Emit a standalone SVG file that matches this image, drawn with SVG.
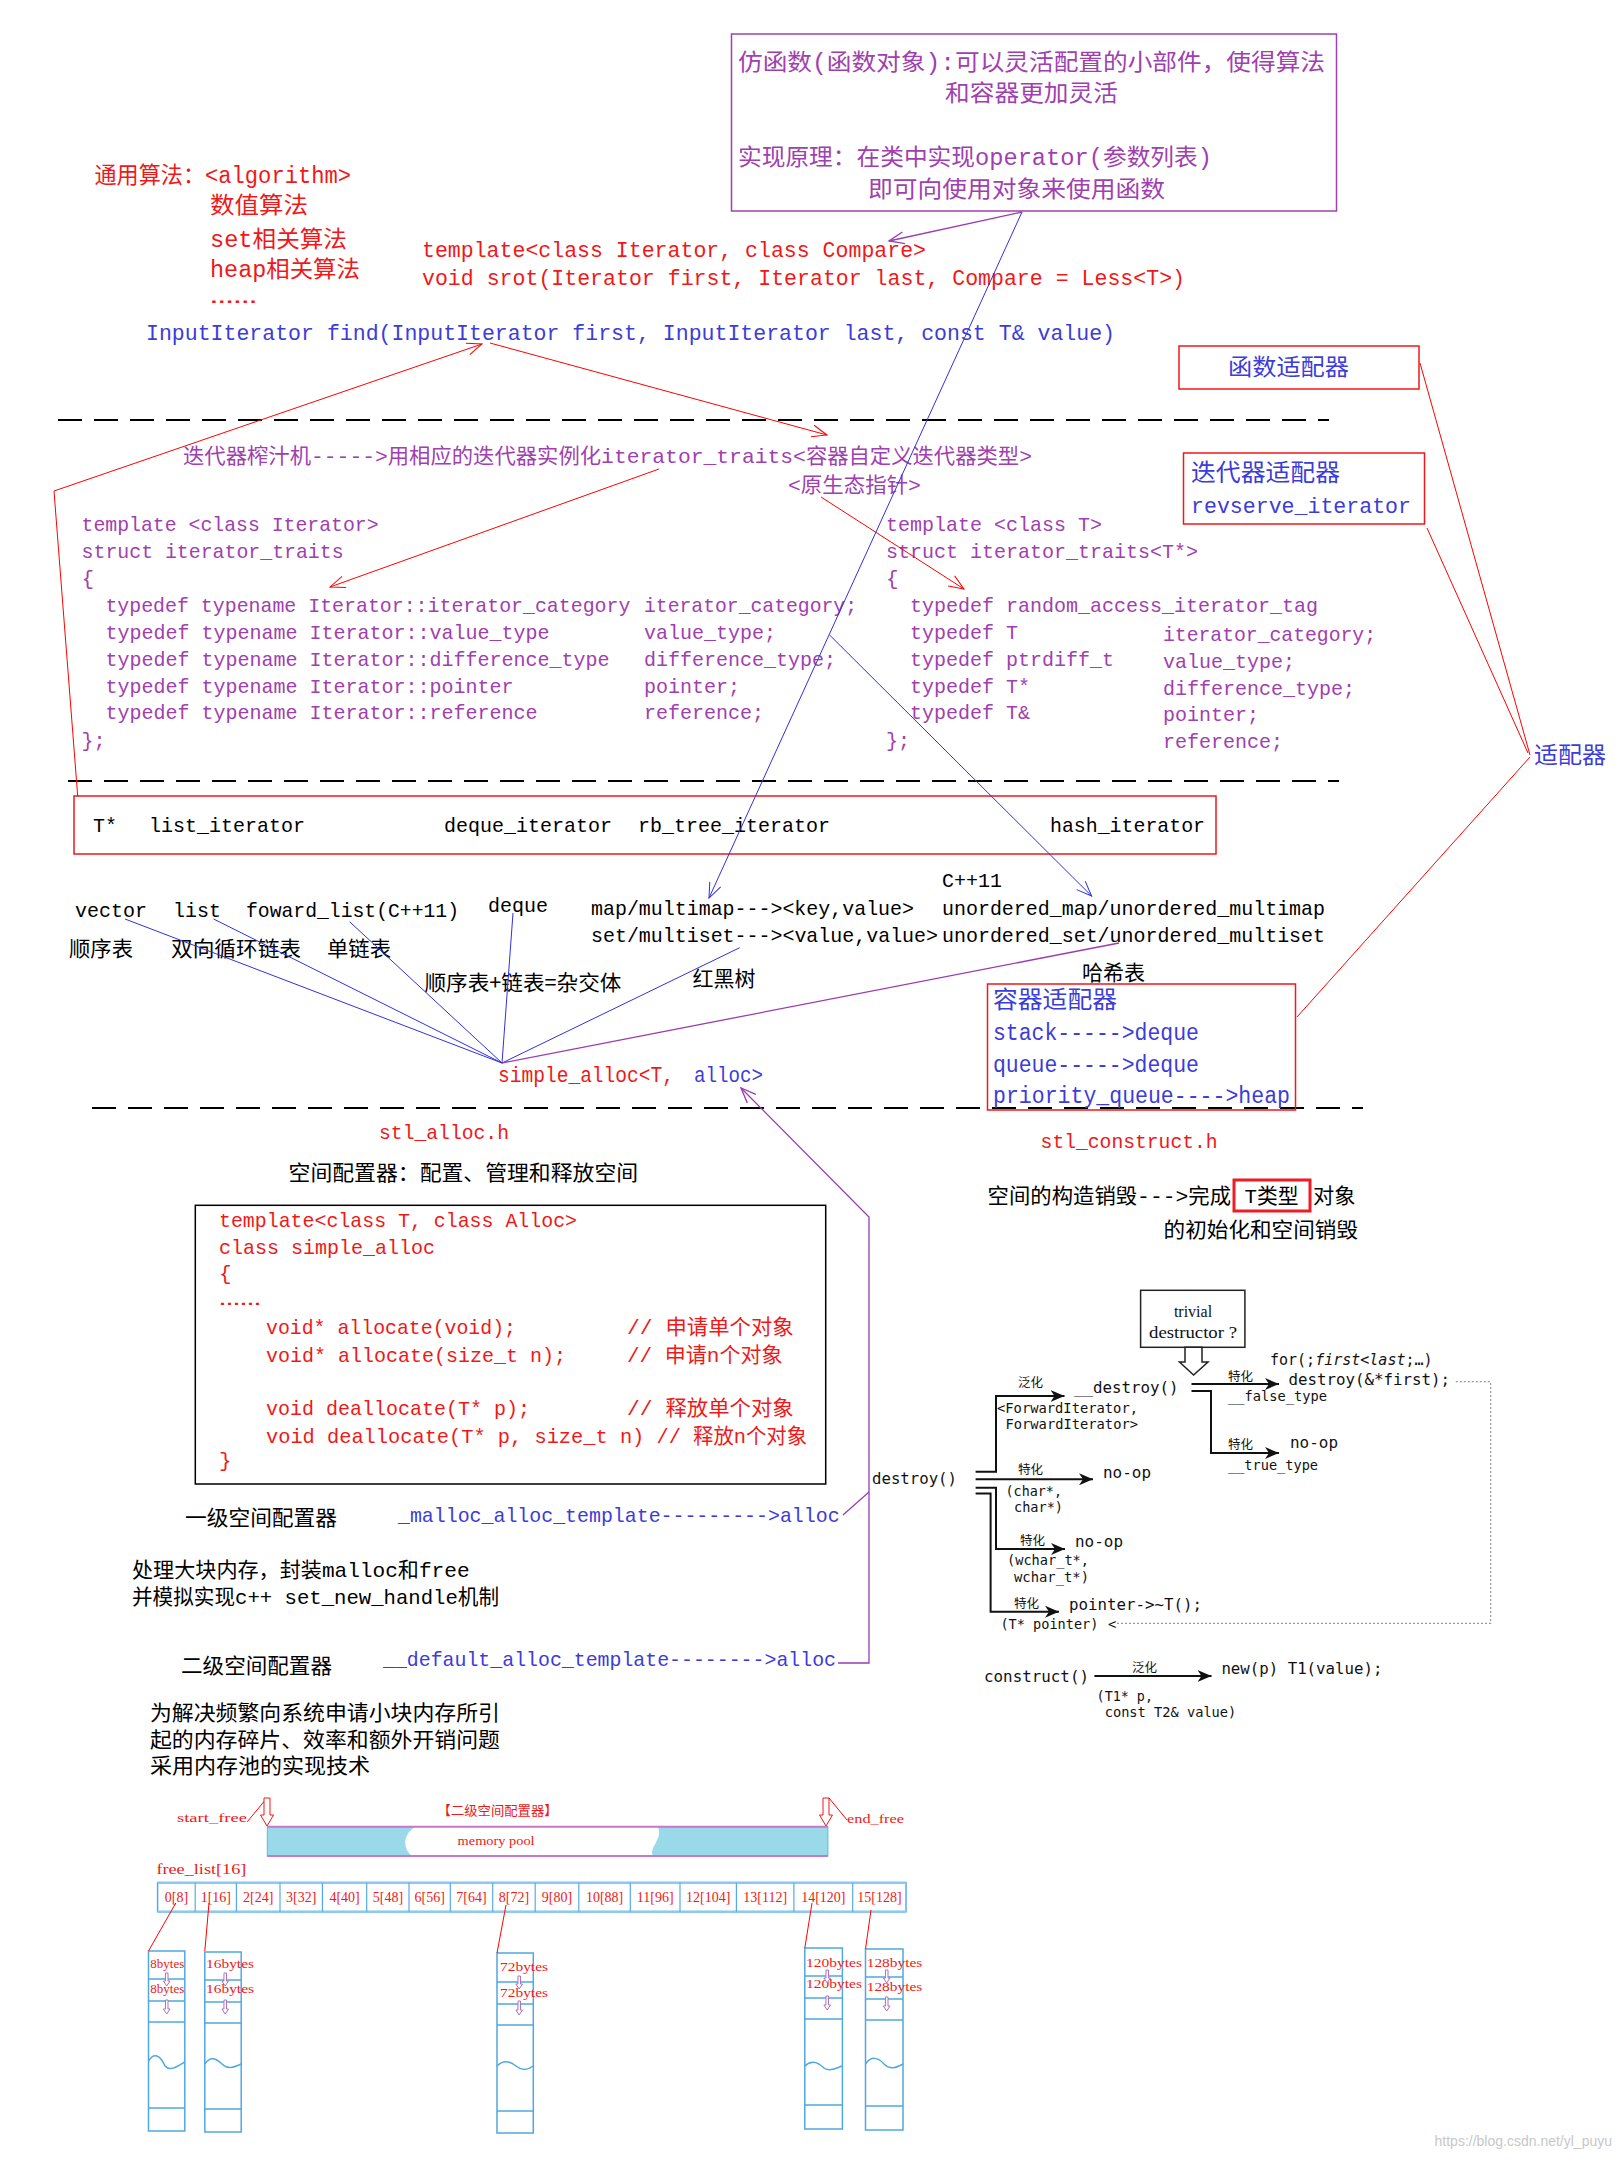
<svg xmlns="http://www.w3.org/2000/svg" width="1620" height="2160" viewBox="0 0 1620 2160">
<style>
.m{font-family:"Liberation Mono","Noto Sans CJK SC",monospace;}
.c{font-family:"Noto Sans CJK SC",sans-serif;}
.s{font-family:"DejaVu Sans Mono","Noto Sans CJK SC",monospace;fill:#111;}
.t{font-family:"Liberation Serif","Noto Sans CJK SC",serif;}
.r{fill:#f01818}.b{fill:#3c3cd8}.p{fill:#a040b0}.k{fill:#000}
.lr{stroke:#ff0000;stroke-width:1;fill:none}
.lb{stroke:#3030e0;stroke-width:1;fill:none}
.lp{stroke:#9a3cb0;stroke-width:1.3;fill:none}
.dash{stroke:#000;stroke-width:2;stroke-dasharray:24 12;fill:none}
.dl{stroke:#111;stroke-width:2;fill:none}
.cyan{stroke:#4fa8e0;stroke-width:1.5;fill:none}
</style>
<defs>
<marker id="aR" markerUnits="userSpaceOnUse" markerWidth="18" markerHeight="14" refX="16" refY="7" orient="auto"><path d="M1,1 L16,7 L1,13" fill="none" stroke="#ff0000" stroke-width="1"/></marker>
<marker id="aB" markerUnits="userSpaceOnUse" markerWidth="18" markerHeight="14" refX="16" refY="7" orient="auto"><path d="M1,1 L16,7 L1,13" fill="none" stroke="#3030e0" stroke-width="1"/></marker>
<marker id="aP" markerUnits="userSpaceOnUse" markerWidth="18" markerHeight="14" refX="16" refY="7" orient="auto"><path d="M1,1 L16,7 L1,13" fill="none" stroke="#9a3cb0" stroke-width="1.3"/></marker>
<marker id="aK" markerUnits="userSpaceOnUse" markerWidth="16" markerHeight="12" refX="14" refY="6" orient="auto"><path d="M0,0 L14,6 L0,12 L4,6 z" fill="#111"/></marker>
</defs>
<rect width="1620" height="2160" fill="#fff"/>

<!-- dashed separators -->
<g id="separators">
<line class="dash" x1="58" y1="420" x2="1329" y2="420"/>
<line class="dash" x1="68" y1="781" x2="1339" y2="781"/>
<line class="dash" x1="92" y1="1108" x2="1363" y2="1108"/>
</g>

<g id="functor">
<rect x="731.5" y="34" width="605" height="177" fill="none" stroke="#a040b0" stroke-width="1.5"/>
<text class="m p" font-size="23" x="738" y="70" textLength="587" lengthAdjust="spacingAndGlyphs">仿函数(函数对象):可以灵活配置的小部件，使得算法</text>
<text class="m p" font-size="23" x="945" y="101" textLength="173" lengthAdjust="spacingAndGlyphs">和容器更加灵活</text>
<text class="m p" font-size="23" x="738" y="165" textLength="474" lengthAdjust="spacingAndGlyphs">实现原理：在类中实现operator(参数列表)</text>
<text class="m p" font-size="23" x="868" y="197" textLength="297" lengthAdjust="spacingAndGlyphs">即可向使用对象来使用函数</text>
</g>

<g id="algorithms">
<text class="m r" font-size="23" x="94.5" y="183" textLength="256.5" lengthAdjust="spacingAndGlyphs">通用算法：&lt;algorithm&gt;</text>
<text class="m r" font-size="23" x="210" y="213" textLength="98" lengthAdjust="spacingAndGlyphs">数值算法</text>
<text class="m r" font-size="23" x="210" y="247" textLength="137" lengthAdjust="spacingAndGlyphs">set相关算法</text>
<text class="m r" font-size="23" x="210" y="277" textLength="150" lengthAdjust="spacingAndGlyphs">heap相关算法</text>
<text class="m r" font-size="23" x="210" y="303" textLength="47" lengthAdjust="spacingAndGlyphs">……</text>
</g>

<g id="sort-decl">
<text class="m r" font-size="22" x="422" y="257" textLength="504" lengthAdjust="spacingAndGlyphs">template&lt;class Iterator, class Compare&gt;</text>
<text class="m r" font-size="22" x="422" y="285" textLength="763" lengthAdjust="spacingAndGlyphs">void srot(Iterator first, Iterator last, Compare = Less&lt;T&gt;)</text>
</g>

<g id="find-decl">
<text class="m b" font-size="22" x="146" y="340" textLength="969" lengthAdjust="spacingAndGlyphs">InputIterator find(InputIterator first, InputIterator last, const T&amp; value)</text>
</g>

<g id="func-adapter">
<rect x="1179" y="346" width="240" height="43" fill="none" stroke="#f01818" stroke-width="1.5"/>
<text class="c b" font-size="23" x="1228" y="375" textLength="121" lengthAdjust="spacingAndGlyphs">函数适配器</text>
</g>

<g id="traits-title">
<text class="m p" font-size="21" x="183" y="463" textLength="849" lengthAdjust="spacingAndGlyphs">迭代器榨汁机-----&gt;用相应的迭代器实例化iterator_traits&lt;容器自定义迭代器类型&gt;</text>
<text class="m p" font-size="21" x="788" y="492" textLength="133" lengthAdjust="spacingAndGlyphs">&lt;原生态指针&gt;</text>
</g>

<g id="traits-generic">
<text class="m p" font-size="21" x="81.6" y="531" textLength="297" lengthAdjust="spacingAndGlyphs">template &lt;class Iterator&gt;</text>
<text class="m p" font-size="21" x="81.6" y="558" textLength="262" lengthAdjust="spacingAndGlyphs">struct iterator_traits</text>
<text class="m p" font-size="21" x="81.6" y="585">{</text>
<text class="m p" font-size="21" x="105.4" y="612" textLength="525" lengthAdjust="spacingAndGlyphs">typedef typename Iterator::iterator_category</text>
<text class="m p" font-size="21" x="105.4" y="639" textLength="444" lengthAdjust="spacingAndGlyphs">typedef typename Iterator::value_type</text>
<text class="m p" font-size="21" x="105.4" y="666" textLength="504" lengthAdjust="spacingAndGlyphs">typedef typename Iterator::difference_type</text>
<text class="m p" font-size="21" x="105.4" y="693" textLength="408" lengthAdjust="spacingAndGlyphs">typedef typename Iterator::pointer</text>
<text class="m p" font-size="21" x="105.4" y="719" textLength="432" lengthAdjust="spacingAndGlyphs">typedef typename Iterator::reference</text>
<text class="m p" font-size="21" x="644" y="612" textLength="213" lengthAdjust="spacingAndGlyphs">iterator_category;</text>
<text class="m p" font-size="21" x="644" y="639" textLength="132" lengthAdjust="spacingAndGlyphs">value_type;</text>
<text class="m p" font-size="21" x="644" y="666" textLength="192" lengthAdjust="spacingAndGlyphs">difference_type;</text>
<text class="m p" font-size="21" x="644" y="693" textLength="96" lengthAdjust="spacingAndGlyphs">pointer;</text>
<text class="m p" font-size="21" x="644" y="719" textLength="120" lengthAdjust="spacingAndGlyphs">reference;</text>
<text class="m p" font-size="21" x="81.6" y="747" textLength="24" lengthAdjust="spacingAndGlyphs">};</text>
</g>

<g id="traits-pointer">
<text class="m p" font-size="21" x="886" y="531" textLength="216" lengthAdjust="spacingAndGlyphs">template &lt;class T&gt;</text>
<text class="m p" font-size="21" x="886" y="558" textLength="312" lengthAdjust="spacingAndGlyphs">struct iterator_traits&lt;T*&gt;</text>
<text class="m p" font-size="21" x="886" y="585">{</text>
<text class="m p" font-size="21" x="910" y="612" textLength="408" lengthAdjust="spacingAndGlyphs">typedef random_access_iterator_tag</text>
<text class="m p" font-size="21" x="910" y="639" textLength="108" lengthAdjust="spacingAndGlyphs">typedef T</text>
<text class="m p" font-size="21" x="910" y="666" textLength="204" lengthAdjust="spacingAndGlyphs">typedef ptrdiff_t</text>
<text class="m p" font-size="21" x="910" y="693" textLength="120" lengthAdjust="spacingAndGlyphs">typedef T*</text>
<text class="m p" font-size="21" x="910" y="719" textLength="120" lengthAdjust="spacingAndGlyphs">typedef T&amp;</text>
<text class="m p" font-size="21" x="886" y="747" textLength="24" lengthAdjust="spacingAndGlyphs">};</text>
<text class="m p" font-size="21" x="1163" y="641" textLength="213" lengthAdjust="spacingAndGlyphs">iterator_category;</text>
<text class="m p" font-size="21" x="1163" y="668" textLength="132" lengthAdjust="spacingAndGlyphs">value_type;</text>
<text class="m p" font-size="21" x="1163" y="695" textLength="192" lengthAdjust="spacingAndGlyphs">difference_type;</text>
<text class="m p" font-size="21" x="1163" y="721" textLength="96" lengthAdjust="spacingAndGlyphs">pointer;</text>
<text class="m p" font-size="21" x="1163" y="748" textLength="120" lengthAdjust="spacingAndGlyphs">reference;</text>
</g>

<g id="iter-adapter">
<rect x="1183.5" y="453" width="241" height="71" fill="none" stroke="#f01818" stroke-width="1.5"/>
<text class="c b" font-size="24" x="1191" y="481" textLength="149" lengthAdjust="spacingAndGlyphs">迭代器适配器</text>
<text class="m b" font-size="22" x="1191" y="513" textLength="220" lengthAdjust="spacingAndGlyphs">revserve_iterator</text>
</g>

<g id="adapter">
<text class="c b" font-size="23" x="1534" y="763" textLength="72" lengthAdjust="spacingAndGlyphs">适配器</text>
</g>

<g id="iterators">
<rect x="74" y="796" width="1142" height="58" fill="none" stroke="#f01818" stroke-width="1.5"/>
<text class="m k" font-size="21" x="93" y="832" textLength="24" lengthAdjust="spacingAndGlyphs">T*</text>
<text class="m k" font-size="21" x="149" y="832" textLength="156" lengthAdjust="spacingAndGlyphs">list_iterator</text>
<text class="m k" font-size="21" x="444" y="832" textLength="168" lengthAdjust="spacingAndGlyphs">deque_iterator</text>
<text class="m k" font-size="21" x="638" y="832" textLength="192" lengthAdjust="spacingAndGlyphs">rb_tree_iterator</text>
<text class="m k" font-size="21" x="1050" y="832" textLength="155" lengthAdjust="spacingAndGlyphs">hash_iterator</text>
</g>

<g id="containers">
<text class="m k" font-size="21" x="75" y="917" textLength="72" lengthAdjust="spacingAndGlyphs">vector</text>
<text class="m k" font-size="21" x="173" y="917" textLength="48" lengthAdjust="spacingAndGlyphs">list</text>
<text class="m k" font-size="21" x="246" y="917" textLength="213" lengthAdjust="spacingAndGlyphs">foward_list(C++11)</text>
<text class="m k" font-size="21" x="488" y="912" textLength="60" lengthAdjust="spacingAndGlyphs">deque</text>
<text class="m k" font-size="21" x="591" y="915" textLength="323" lengthAdjust="spacingAndGlyphs">map/multimap---&gt;&lt;key,value&gt;</text>
<text class="m k" font-size="21" x="591" y="942" textLength="347" lengthAdjust="spacingAndGlyphs">set/multiset---&gt;&lt;value,value&gt;</text>
<text class="m k" font-size="21" x="942" y="887" textLength="60" lengthAdjust="spacingAndGlyphs">C++11</text>
<text class="m k" font-size="21" x="942" y="915" textLength="383" lengthAdjust="spacingAndGlyphs">unordered_map/unordered_multimap</text>
<text class="m k" font-size="21" x="942" y="942" textLength="383" lengthAdjust="spacingAndGlyphs">unordered_set/unordered_multiset</text>
<text class="c k" font-size="21" x="69" y="956" textLength="64" lengthAdjust="spacingAndGlyphs">顺序表</text>
<text class="c k" font-size="21" x="171" y="956" textLength="130" lengthAdjust="spacingAndGlyphs">双向循环链表</text>
<text class="c k" font-size="21" x="327" y="956" textLength="64" lengthAdjust="spacingAndGlyphs">单链表</text>
<text class="c k" font-size="21" x="424.5" y="990" textLength="197" lengthAdjust="spacingAndGlyphs">顺序表+链表=杂交体</text>
<text class="c k" font-size="21" x="692.5" y="986" textLength="63" lengthAdjust="spacingAndGlyphs">红黑树</text>
<text class="c k" font-size="21" x="1082" y="980" textLength="63" lengthAdjust="spacingAndGlyphs">哈希表</text>
</g>

<g id="simple-alloc-ref">
<text class="m r" font-size="22" x="498" y="1082" textLength="176" lengthAdjust="spacingAndGlyphs">simple_alloc&lt;T,</text>
<text class="m b" font-size="22" x="694" y="1082" textLength="69" lengthAdjust="spacingAndGlyphs">alloc&gt;</text>
</g>

<g id="container-adapter">
<rect x="987.5" y="984" width="308" height="126" fill="none" stroke="#f01818" stroke-width="1.5"/>
<text class="c b" font-size="24" x="993" y="1008" textLength="124" lengthAdjust="spacingAndGlyphs">容器适配器</text>
<text class="m b" font-size="23" x="993" y="1040" textLength="206" lengthAdjust="spacingAndGlyphs">stack-----&gt;deque</text>
<text class="m b" font-size="23" x="993" y="1072" textLength="206" lengthAdjust="spacingAndGlyphs">queue-----&gt;deque</text>
<text class="m b" font-size="23" x="993" y="1103" textLength="297" lengthAdjust="spacingAndGlyphs">priority_queue----&gt;heap</text>
</g>

<g id="stl-alloc">
<text class="m r" font-size="21" x="379" y="1139" textLength="130" lengthAdjust="spacingAndGlyphs">stl_alloc.h</text>
<text class="c k" font-size="21" x="288.6" y="1180" textLength="349.5" lengthAdjust="spacingAndGlyphs">空间配置器：配置、管理和释放空间</text>
</g>

<g id="simple-alloc-class">
<rect x="195.3" y="1205.3" width="630.4" height="278.7" fill="none" stroke="#000" stroke-width="1.5"/>
<text class="m r" font-size="21" x="219" y="1227" textLength="358" lengthAdjust="spacingAndGlyphs">template&lt;class T, class Alloc&gt;</text>
<text class="m r" font-size="21" x="219" y="1254" textLength="216" lengthAdjust="spacingAndGlyphs">class simple_alloc</text>
<text class="m r" font-size="21" x="219" y="1280">{</text>
<text class="m r" font-size="21" x="219" y="1305" textLength="42" lengthAdjust="spacingAndGlyphs">……</text>
<text class="m r" font-size="21" x="266" y="1334" textLength="250" lengthAdjust="spacingAndGlyphs">void* allocate(void);</text>
<text class="m r" font-size="21" x="627" y="1334" textLength="166.6" lengthAdjust="spacingAndGlyphs">// 申请单个对象</text>
<text class="m r" font-size="21" x="266" y="1362" textLength="300" lengthAdjust="spacingAndGlyphs">void* allocate(size_t n);</text>
<text class="m r" font-size="21" x="627" y="1362" textLength="155.5" lengthAdjust="spacingAndGlyphs">// 申请n个对象</text>
<text class="m r" font-size="21" x="266" y="1415" textLength="264" lengthAdjust="spacingAndGlyphs">void deallocate(T* p);</text>
<text class="m r" font-size="21" x="627" y="1415" textLength="166.6" lengthAdjust="spacingAndGlyphs">// 释放单个对象</text>
<text class="m r" font-size="21" x="266" y="1443" textLength="541" lengthAdjust="spacingAndGlyphs">void deallocate(T* p, size_t n) // 释放n个对象</text>
<text class="m r" font-size="21" x="219" y="1467">}</text>
</g>

<g id="level1">
<text class="c k" font-size="21" x="185" y="1525" textLength="152" lengthAdjust="spacingAndGlyphs">一级空间配置器</text>
<text class="m b" font-size="21" x="398" y="1522" textLength="441.6" lengthAdjust="spacingAndGlyphs">_malloc_alloc_template---------&gt;alloc</text>
<text class="m k" font-size="21" x="132" y="1577" textLength="337.6" lengthAdjust="spacingAndGlyphs">处理大块内存，封装malloc和free</text>
<text class="m k" font-size="21" x="132" y="1604" textLength="367" lengthAdjust="spacingAndGlyphs">并模拟实现c++ set_new_handle机制</text>
</g>

<g id="level2">
<text class="c k" font-size="21" x="181" y="1673" textLength="151" lengthAdjust="spacingAndGlyphs">二级空间配置器</text>
<text class="m b" font-size="21" x="383" y="1666" textLength="453" lengthAdjust="spacingAndGlyphs">__default_alloc_template--------&gt;alloc</text>
<text class="c k" font-size="21" x="150" y="1720" textLength="350" lengthAdjust="spacingAndGlyphs">为解决频繁向系统申请小块内存所引</text>
<text class="c k" font-size="21" x="150" y="1747" textLength="350" lengthAdjust="spacingAndGlyphs">起的内存碎片、效率和额外开销问题</text>
<text class="c k" font-size="21" x="150" y="1773" textLength="220" lengthAdjust="spacingAndGlyphs">采用内存池的实现技术</text>
</g>

<g id="stl-construct">
<text class="m r" font-size="21" x="1040.6" y="1148" textLength="177" lengthAdjust="spacingAndGlyphs">stl_construct.h</text>
<text class="m k" font-size="21" x="987.6" y="1203" textLength="243.5" lengthAdjust="spacingAndGlyphs">空间的构造销毁---&gt;完成</text>
<rect x="1234" y="1180" width="76" height="31" fill="none" stroke="#ee1c24" stroke-width="3"/>
<text class="m k" font-size="21" x="1244.6" y="1203" textLength="54" lengthAdjust="spacingAndGlyphs">T类型</text>
<text class="c k" font-size="21" x="1313" y="1203" textLength="42.5" lengthAdjust="spacingAndGlyphs">对象</text>
<text class="c k" font-size="21" x="1163.6" y="1237" textLength="194.4" lengthAdjust="spacingAndGlyphs">的初始化和空间销毁</text>
</g>

<g id="destroy-diagram">
<rect x="1140.6" y="1290.3" width="104.3" height="57" fill="none" stroke="#222" stroke-width="1.5"/>
<text class="t" font-size="16" fill="#111" x="1193" y="1317" text-anchor="middle">trivial</text>
<text class="t" font-size="16" fill="#111" x="1149" y="1338" textLength="88" lengthAdjust="spacingAndGlyphs">destructor ?</text>
<polygon points="1185,1347.3 1202,1347.3 1202,1362 1208,1362 1193.6,1375 1179.5,1362 1185,1362" fill="#fff" stroke="#222" stroke-width="1.5"/>
<text class="s" font-size="15" x="1270" y="1365">for(;<tspan font-style="italic">first&lt;last</tspan>;…)</text>
<text class="s" font-size="15.8" x="1288.5" y="1385" textLength="161.5" lengthAdjust="spacingAndGlyphs">destroy(&amp;*first);</text>
<text class="c" font-size="12.5" fill="#111" x="1228" y="1381">特化</text>
<text class="s" font-size="13.7" x="1228" y="1401" textLength="99" lengthAdjust="spacingAndGlyphs">__false_type</text>
<text class="c" font-size="12.5" fill="#111" x="1228" y="1449">特化</text>
<text class="s" font-size="15.8" x="1290" y="1448" textLength="48" lengthAdjust="spacingAndGlyphs">no-op</text>
<text class="s" font-size="13.7" x="1228" y="1470" textLength="90" lengthAdjust="spacingAndGlyphs">__true_type</text>
<text class="s" font-size="15.8" x="1074" y="1393" textLength="104.6" lengthAdjust="spacingAndGlyphs">__destroy()</text>
<text class="c" font-size="12.5" fill="#111" x="1018" y="1387">泛化</text>
<text class="s" font-size="13.8" x="997" y="1413" textLength="141" lengthAdjust="spacingAndGlyphs">&lt;ForwardIterator,</text>
<text class="s" font-size="13.8" x="1005.5" y="1429" textLength="132.5" lengthAdjust="spacingAndGlyphs">ForwardIterator&gt;</text>
<text class="s" font-size="15.8" x="872" y="1484" textLength="85" lengthAdjust="spacingAndGlyphs">destroy()</text>
<text class="c" font-size="12.5" fill="#111" x="1018" y="1474">特化</text>
<text class="s" font-size="15.8" x="1103" y="1478" textLength="48" lengthAdjust="spacingAndGlyphs">no-op</text>
<text class="s" font-size="13.8" x="1005.5" y="1496" textLength="56.5" lengthAdjust="spacingAndGlyphs">(char*,</text>
<text class="s" font-size="13.8" x="1014" y="1512" textLength="49" lengthAdjust="spacingAndGlyphs">char*)</text>
<text class="c" font-size="12.5" fill="#111" x="1020" y="1545">特化</text>
<text class="s" font-size="15.8" x="1075" y="1547" textLength="48" lengthAdjust="spacingAndGlyphs">no-op</text>
<text class="s" font-size="13.8" x="1007" y="1565" textLength="82" lengthAdjust="spacingAndGlyphs">(wchar_t*,</text>
<text class="s" font-size="13.8" x="1014" y="1582" textLength="75" lengthAdjust="spacingAndGlyphs">wchar_t*)</text>
<text class="c" font-size="12.5" fill="#111" x="1014" y="1608">特化</text>
<text class="s" font-size="15.8" x="1069" y="1610" textLength="133" lengthAdjust="spacingAndGlyphs">pointer-&gt;~T();</text>
<text class="s" font-size="13.8" x="1000.4" y="1629" textLength="98" lengthAdjust="spacingAndGlyphs">(T* pointer)</text>
<text class="s" font-size="13.8" x="1108" y="1629">&lt;</text>
<text class="s" font-size="15.8" x="984" y="1682" textLength="105" lengthAdjust="spacingAndGlyphs">construct()</text>
<text class="c" font-size="12.5" fill="#111" x="1132" y="1672">泛化</text>
<text class="s" font-size="15.8" x="1221.4" y="1674" textLength="161" lengthAdjust="spacingAndGlyphs">new(p) T1(value);</text>
<text class="s" font-size="13.8" x="1096.6" y="1701" textLength="56.4" lengthAdjust="spacingAndGlyphs">(T1* p,</text>
<text class="s" font-size="13.8" x="1104.7" y="1717" textLength="131.6" lengthAdjust="spacingAndGlyphs">const T2&amp; value)</text>
<!-- diagram lines -->
<line class="dl" x1="1191.5" y1="1384" x2="1279" y2="1384" marker-end="url(#aK)"/>
<polyline class="dl" points="1191.5,1391 1211,1391 1211,1453 1279,1453" marker-end="url(#aK)"/>
<polyline class="dl" points="975.6,1471.7 996,1471.7 996,1396 1064.5,1396" marker-end="url(#aK)"/>
<line class="dl" x1="975.6" y1="1479.3" x2="1093" y2="1479.3" marker-end="url(#aK)"/>
<polyline class="dl" points="975.6,1487.7 996,1487.7 996,1549 1065,1549" marker-end="url(#aK)"/>
<polyline class="dl" points="975.6,1493.5 990.6,1493.5 990.6,1611.7 1059,1611.7" marker-end="url(#aK)"/>
<polyline points="1117,1623.3 1490.6,1623.3 1490.6,1381.7 1454,1381.7" fill="none" stroke="#999" stroke-width="1.2" stroke-dasharray="2 2"/>
<line class="dl" x1="1094.4" y1="1676" x2="1211.5" y2="1676" marker-end="url(#aK)"/>
</g>

<g id="memory-pool">
<text class="t r" font-size="13" x="177" y="1822" textLength="70" lengthAdjust="spacingAndGlyphs">start_free</text>
<line class="lr" x1="247.3" y1="1821.7" x2="266.7" y2="1798.3"/>
<polygon points="264,1798 270,1798 270,1815 273.5,1815 267,1826 260.5,1815 264,1815" fill="#fff" stroke="#f01818" stroke-width="1"/>
<text class="c r" font-size="13" x="437.6" y="1815" textLength="120" lengthAdjust="spacingAndGlyphs">【二级空间配置器】</text>
<polygon points="823,1798 829,1798 829,1815 832.5,1815 826,1826 819.5,1815 823,1815" fill="#fff" stroke="#f01818" stroke-width="1"/>
<line class="lr" x1="829" y1="1798" x2="847" y2="1820"/>
<text class="t r" font-size="13" x="847" y="1823" textLength="57" lengthAdjust="spacingAndGlyphs">end_free</text>
<rect x="267.3" y="1826.7" width="560.6" height="29.3" fill="#99d9ea" stroke="#5fb8d8" stroke-width="1"/>
<path d="M415,1826.7 C403,1835 402,1848 412,1856 L653,1856 C648,1848 664,1838 657.6,1826.7 Z" fill="#fff"/>
<line x1="267.3" y1="1826.7" x2="827.9" y2="1826.7" stroke="#c878c8" stroke-width="2"/>
<line x1="267.3" y1="1856" x2="827.9" y2="1856" stroke="#c878c8" stroke-width="2"/>
<text class="t r" font-size="12" x="457.6" y="1845" textLength="77" lengthAdjust="spacingAndGlyphs">memory pool</text>
<text class="t r" font-size="14" x="156.4" y="1874" textLength="90" lengthAdjust="spacingAndGlyphs">free_list[16]</text>
<rect x="157.6" y="1882.7" width="748.4" height="29" fill="none" stroke="#55aaee" stroke-width="1.5"/>
<line x1="157.6" y1="1882.7" x2="906" y2="1882.7" stroke="#8cc8f0" stroke-width="2.5"/>
<line x1="157.6" y1="1911.7" x2="906" y2="1911.7" stroke="#8cc8f0" stroke-width="2.5"/>
<g stroke="#55aaee" stroke-width="1.2">
<line x1="195.2" y1="1882.7" x2="195.2" y2="1911.7"/><line x1="236.4" y1="1882.7" x2="236.4" y2="1911.7"/>
<line x1="280" y1="1882.7" x2="280" y2="1911.7"/><line x1="322.4" y1="1882.7" x2="322.4" y2="1911.7"/>
<line x1="366.7" y1="1882.7" x2="366.7" y2="1911.7"/><line x1="409" y1="1882.7" x2="409" y2="1911.7"/>
<line x1="450.3" y1="1882.7" x2="450.3" y2="1911.7"/><line x1="492.7" y1="1882.7" x2="492.7" y2="1911.7"/>
<line x1="535.2" y1="1882.7" x2="535.2" y2="1911.7"/><line x1="578.8" y1="1882.7" x2="578.8" y2="1911.7"/>
<line x1="630.3" y1="1882.7" x2="630.3" y2="1911.7"/><line x1="680" y1="1882.7" x2="680" y2="1911.7"/>
<line x1="736.4" y1="1882.7" x2="736.4" y2="1911.7"/><line x1="793.9" y1="1882.7" x2="793.9" y2="1911.7"/>
<line x1="852.7" y1="1882.7" x2="852.7" y2="1911.7"/>
</g>
<g class="t r" font-size="14" text-anchor="middle">
<text x="176.4" y="1902">0[8]</text><text x="215.8" y="1902">1[16]</text><text x="258.2" y="1902">2[24]</text>
<text x="301.2" y="1902">3[32]</text><text x="344.6" y="1902">4[40]</text><text x="387.9" y="1902">5[48]</text>
<text x="429.7" y="1902">6[56]</text><text x="471.5" y="1902">7[64]</text><text x="514" y="1902">8[72]</text>
<text x="557" y="1902">9[80]</text><text x="604.6" y="1902">10[88]</text><text x="655.2" y="1902">11[96]</text>
<text x="708.2" y="1902">12[104]</text><text x="765.2" y="1902">13[112]</text><text x="823.3" y="1902">14[120]</text>
<text x="879.4" y="1902">15[128]</text>
</g>
<!-- columns -->
<g class="cyan">
<rect x="148.5" y="1951" width="36.3" height="180"/>
<path d="M148.5,1979 H184.8 M148.5,2001 H184.8 M148.5,2022 H184.8 M148.5,2108 H184.8"/>
<path d="M148.5,2061 C154,2052 160,2055 165,2066 C170,2072 178,2066 184.8,2062"/>
<rect x="204.8" y="1952" width="36.4" height="180"/>
<path d="M204.8,1980 H241.2 M204.8,2002 H241.2 M204.8,2023 H241.2 M204.8,2109 H241.2"/>
<path d="M204.8,2064 C210,2056 216,2058 222,2064 C228,2070 234,2067 241.2,2064"/>
<rect x="497" y="1953" width="36.3" height="180"/>
<path d="M497,1982 H533.3 M497,2004 H533.3 M497,2025 H533.3 M497,2111 H533.3"/>
<path d="M497,2066 C503,2060 510,2061 516,2066 C522,2071 528,2070 533.3,2066"/>
<rect x="804.8" y="1948" width="37.6" height="181"/>
<path d="M804.8,1976 H842.4 M804.8,1998 H842.4 M804.8,2019 H842.4 M804.8,2105 H842.4"/>
<path d="M804.8,2066 C811,2060 818,2062 824,2068 C830,2072 836,2068 842.4,2066"/>
<rect x="865.5" y="1949" width="37.5" height="181"/>
<path d="M865.5,1977 H903 M865.5,1999 H903 M865.5,2020 H903 M865.5,2106 H903"/>
<path d="M865.5,2064 C871,2056 878,2057 884,2064 C890,2070 896,2068 903,2064"/>
</g>
<g class="t r" font-size="13">
<text x="150.3" y="1968" textLength="34" lengthAdjust="spacingAndGlyphs">8bytes</text>
<text x="150.3" y="1993" textLength="34" lengthAdjust="spacingAndGlyphs">8bytes</text>
<text x="206" y="1968" textLength="48" lengthAdjust="spacingAndGlyphs">16bytes</text>
<text x="206" y="1993" textLength="48" lengthAdjust="spacingAndGlyphs">16bytes</text>
<text x="500" y="1971" textLength="48" lengthAdjust="spacingAndGlyphs">72bytes</text>
<text x="500" y="1997" textLength="48" lengthAdjust="spacingAndGlyphs">72bytes</text>
<text x="806" y="1967" textLength="56" lengthAdjust="spacingAndGlyphs">120bytes</text>
<text x="806" y="1988" textLength="56" lengthAdjust="spacingAndGlyphs">120bytes</text>
<text x="866.7" y="1967" textLength="55.7" lengthAdjust="spacingAndGlyphs">128bytes</text>
<text x="866.7" y="1991" textLength="55.7" lengthAdjust="spacingAndGlyphs">128bytes</text>
</g>
<g fill="#fff" stroke="#b070c0" stroke-width="1">
<path d="M165.5,1973 h2.5 v8 h2 l-3.3,5 l-3.3,-5 h2 z"/><path d="M165.5,2000 h2.5 v9 h2 l-3.3,5 l-3.3,-5 h2 z"/>
<path d="M224,1973 h2.5 v8 h2 l-3.3,5 l-3.3,-5 h2 z"/><path d="M224,2000 h2.5 v9 h2 l-3.3,5 l-3.3,-5 h2 z"/>
<path d="M518,1976 h2.5 v8 h2 l-3.3,5 l-3.3,-5 h2 z"/><path d="M518,2001 h2.5 v9 h2 l-3.3,5 l-3.3,-5 h2 z"/>
<path d="M826,1970 h2.5 v8 h2 l-3.3,5 l-3.3,-5 h2 z"/><path d="M826,1996 h2.5 v9 h2 l-3.3,5 l-3.3,-5 h2 z"/>
<path d="M885.5,1970 h2.5 v8 h2 l-3.3,5 l-3.3,-5 h2 z"/><path d="M885.5,1997 h2.5 v9 h2 l-3.3,5 l-3.3,-5 h2 z"/>
</g>
<g class="lr">
<line x1="175.8" y1="1903" x2="148.5" y2="1951"/>
<line x1="209" y1="1903" x2="204.8" y2="1951"/>
<line x1="506" y1="1905" x2="497" y2="1953"/>
<line x1="812" y1="1903" x2="804.8" y2="1948"/>
<line x1="871" y1="1910" x2="865.5" y2="1949"/>
</g>
</g>

<g id="connectors">
<!-- red -->
<polyline class="lr" points="77.7,796 54,491 482,344" marker-end="url(#aR)"/>
<line class="lr" x1="490" y1="343" x2="827" y2="435" marker-end="url(#aR)"/>
<line class="lr" x1="659" y1="469" x2="330" y2="587" marker-end="url(#aR)"/>
<line class="lr" x1="821" y1="497" x2="964" y2="589" marker-end="url(#aR)"/>
<line class="lr" x1="1420" y1="363" x2="1530" y2="755"/>
<line class="lr" x1="1427" y1="528" x2="1528" y2="753"/>
<line class="lr" x1="1530" y1="757" x2="1297" y2="1017"/>
<!-- blue -->
<line class="lb" x1="1022" y1="212" x2="709" y2="898" marker-end="url(#aB)"/>
<line class="lb" x1="829.6" y1="635" x2="1091.6" y2="896" marker-end="url(#aB)"/>
<line class="lb" x1="125" y1="919" x2="502" y2="1063"/>
<line class="lb" x1="213.6" y1="919" x2="502" y2="1063"/>
<line class="lb" x1="349.6" y1="921.7" x2="502" y2="1063"/>
<line class="lb" x1="513" y1="913" x2="502" y2="1063"/>
<line class="lb" x1="739.7" y1="947.7" x2="502" y2="1063"/>
<!-- purple -->
<line class="lp" x1="1022" y1="212" x2="889" y2="241" marker-end="url(#aP)"/>
<line class="lp" x1="1119" y1="943" x2="502" y2="1063" stroke-width="1.6"/>
<polyline class="lp" points="838,1663 869,1663 869,1217 741,1088" marker-end="url(#aP)"/>
<line class="lp" x1="843" y1="1515" x2="869" y2="1492"/>
</g>

<text x="1612" y="2146" text-anchor="end" font-family="Liberation Sans, sans-serif" font-size="14" fill="#c8c8c8">https://blog.csdn.net/yl_puyu</text>
</svg>
